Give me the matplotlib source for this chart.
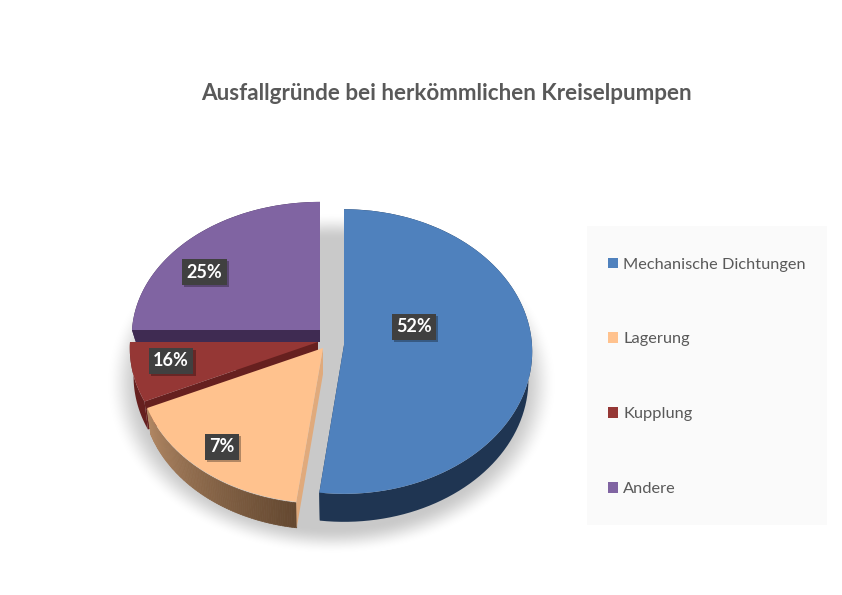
import numpy as np
import matplotlib
matplotlib.use("Agg")
import matplotlib.pyplot as plt
import matplotlib.patheffects as pe
from matplotlib.patches import Rectangle
from matplotlib.transforms import Transform

plt.rcParams['font.family'] = ['Lato', 'DejaVu Sans']

title = "Ausfallgründe bei herkömmlichen Kreiselpumpen"
categories = ["Mechanische Dichtungen", "Lagerung", "Kupplung", "Andere"]
slice_values = [52, 16, 7, 25]
# the printed labels of the original do not follow the slice sizes
label_texts = ["52%", "7%", "16%", "25%"]

colors = ["#4F81BD", "#FFC28E", "#953735", "#8064A2"]
wall_colors = ["#1F3552", "#E0AA7C", "#66201F", "#3F2B52"]

# one exploded slice each: centre x, centre y, radius x, radius y, perspective, wall depth (pixels)
geometry = [(344, 345, 188, 142, 0.046, 28),
            (323, 348, 182, 132, 0.150, 26),
            (318, 342, 188, 137, 0.046, 28),
            (320, 330, 188, 134, 0.046, 12)]
label_xy = [(414, 327), (222, 447), (171, 361), (204.5, 272)]
draw_order = [3, 2, 1, 0]
wall_shrink = 0.98


def project(u, v, g):
    cx, cy, rx, ry, p, _ = g
    f = 1 / (1 + p * v)
    return cx + rx * u * f, cy - ry * v * f


class SliceTransform(Transform):
    input_dims = output_dims = 2
    is_affine = False

    def __init__(self, g):
        super().__init__()
        self.g = g

    def transform_non_affine(self, values):
        values = np.asarray(values)
        x, y = project(values[:, 0], values[:, 1], self.g)
        return np.column_stack([x, y])


fig = plt.figure(figsize=(8.42, 5.95), dpi=100)
ax = fig.add_axes([0, 0, 1, 1])

wedges, _ = ax.pie(slice_values, colors=colors, startangle=90, counterclock=False)
ax.set_aspect('auto')
ax.axis('off')

# soft shadow under the whole pie
gx, gy = np.meshgrid(np.arange(90, 580), np.arange(190, 570))
dist = np.sqrt(((gx - 331) / 214) ** 2 + ((gy - 383) / 162) ** 2)
alpha = np.clip((1.05 - dist) / 0.16, 0, 1)
alpha = alpha * alpha * (3 - 2 * alpha)
shadow = np.zeros(gx.shape + (4,))
shadow[..., :3] = 0.79
shadow[..., 3] = alpha
ax.imshow(shadow, extent=(90, 580, 570, 190), aspect='auto', zorder=0, interpolation='bilinear')
ax.set_xlim(0, 842)
ax.set_ylim(595, 0)

for rank, i in enumerate(draw_order):
    w = wedges[i]
    g = geometry[i]
    cx, depth = g[0], g[5]
    z = 2 + rank * 2
    t = np.radians(np.linspace(w.theta1, w.theta2, 90))
    tx, ty = project(np.cos(t), np.sin(t), g)
    bx = cx + (tx - cx) * wall_shrink
    by = ty + depth

    # outer wall, with the brown run on the peach slice
    if i == 1:
        for k in range(len(t) - 1):
            s = k / (len(t) - 2)
            col = (np.array([178, 136, 100]) * (1 - s) + np.array([100, 72, 48]) * s) / 255
            ax.fill([tx[k], tx[k + 1], bx[k + 1], bx[k]],
                    [ty[k] + 1, ty[k + 1] + 1, by[k + 1], by[k]],
                    color=col, lw=0.5, zorder=z)
    else:
        ax.fill(np.r_[tx, bx[::-1]], np.r_[ty, by[::-1]], color=wall_colors[i], lw=0, zorder=z)

    # cut faces of the slice, the left one of the peach slice stays out of sight
    ox, oy = project(0.0, 0.0, g)
    ends = [-1] if i == 1 else [0, -1]
    for e in ends:
        ax.fill([ox, tx[e], bx[e], ox], [oy, ty[e], by[e], oy + depth],
                color=wall_colors[i], lw=0, zorder=z)

    w.set_transform(SliceTransform(g) + ax.transData)
    w.set_zorder(z + 1)
    w.set_linewidth(0)

for txt, (x, y) in zip(label_texts, label_xy):
    t = ax.text(x, y, txt, color="white", fontsize=13, fontweight="bold",
                ha="center", va="center", zorder=20,
                bbox=dict(boxstyle="square,pad=0.25", fc="#404040", ec="none"))
    t.get_bbox_patch().set_path_effects(
        [pe.withSimplePatchShadow(offset=(1.5, -1.5), shadow_rgbFace="#000000", alpha=0.3)])

ax.text(446, 94, title, color="#595959", fontsize=16.2, fontweight="bold",
        ha="center", va="center", zorder=20)

# legend panel
ax.add_patch(Rectangle((587, 226), 240, 299, fc="#FAFAFA", ec="none", zorder=1))
leg = ax.legend(handles=wedges, labels=categories, loc="upper left",
                bbox_to_anchor=(608, 257.5), bbox_transform=ax.transData,
                frameon=False, fontsize=11.8, labelcolor="#595959", borderpad=0,
                borderaxespad=0, labelspacing=3.72, handlelength=0.6,
                handleheight=0.6, handletextpad=0.32)
leg.set_zorder(21)

fig.savefig("out.png", dpi=100, facecolor="white")
